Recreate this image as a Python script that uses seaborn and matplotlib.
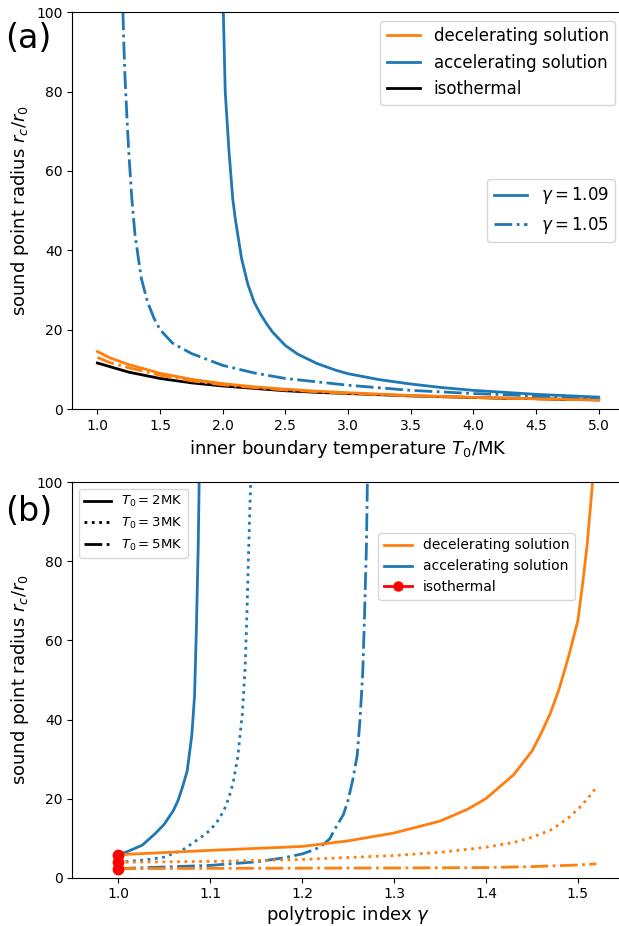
import numpy as np
import pandas as pd
import matplotlib
matplotlib.use("Agg")
import matplotlib.pyplot as plt
from matplotlib.lines import Line2D
import seaborn as sns

ORANGE = "#ff7f0e"
BLUE = "#1f77b4"

# ---- panel (a): sound point radius vs inner boundary temperature ----
T_iso = [1.0, 1.25, 1.5, 1.75, 2.0, 2.25, 2.5, 2.75, 3.0, 3.25, 3.5, 3.75, 4.0, 4.25, 4.5, 4.75, 5.0]
r_iso = [11.6, 9.3, 7.7, 6.6, 5.8, 5.2, 4.6, 4.2, 3.9, 3.6, 3.3, 3.1, 2.9, 2.7, 2.6, 2.4, 2.3]

T_dec = [1.0, 1.1, 1.25, 1.4, 1.5, 1.75, 2.0, 2.25, 2.5, 2.75, 3.0, 3.5, 4.0, 4.5, 5.0]
r_dec_109 = [14.5, 12.9, 11.2, 9.9, 9.0, 7.5, 6.4, 5.6, 5.0, 4.5, 4.1, 3.4, 2.95, 2.6, 2.3]
r_dec_105 = [13.0, 11.7, 10.4, 9.3, 8.5, 7.1, 6.1, 5.4, 4.8, 4.35, 3.95, 3.35, 2.9, 2.55, 2.3]

T_acc_109 = [2.005, 2.02, 2.05, 2.08, 2.1, 2.15, 2.2, 2.25, 2.3, 2.35, 2.4, 2.5, 2.6,
             2.75, 2.9, 3.0, 3.25, 3.5, 3.75, 4.0, 4.5, 5.0]
r_acc_109 = [100, 80, 65, 53, 48, 38, 31.5, 27, 24, 21.5, 19.3, 16.0, 13.8,
             11.5, 9.8, 8.9, 7.4, 6.3, 5.4, 4.7, 3.7, 3.0]

T_acc_105 = [1.204, 1.21, 1.22, 1.235, 1.25, 1.275, 1.3, 1.35, 1.4, 1.45, 1.5, 1.6,
             1.75, 2.0, 2.25, 2.5, 3.0, 3.5, 4.0, 4.5, 5.0]
r_acc_105 = [100, 93, 84, 74, 65, 53, 44, 33, 27, 23, 20, 16.6,
             14, 11, 9.1, 7.7, 6.0, 4.7, 3.9, 3.3, 2.9]

# ---- panel (b): sound point radius vs polytropic index ----
g_acc_2 = [1.0, 1.01, 1.026, 1.04, 1.05, 1.06, 1.065, 1.07, 1.075, 1.08, 1.083, 1.085, 1.087, 1.088]
r_acc_2 = [5.8, 6.6, 8.2, 11.1, 13.5, 17, 19.5, 23, 27, 36, 46, 63, 84, 100]

g_acc_3 = [1.0, 1.03, 1.05, 1.07, 1.08, 1.09, 1.1, 1.108, 1.115, 1.12, 1.125, 1.13,
           1.135, 1.138, 1.14, 1.142, 1.144]
r_acc_3 = [3.9, 4.5, 5.2, 7.0, 8.6, 10.2, 12, 14.3, 17, 20, 24, 30.5,
           41.5, 53, 67, 84, 100]

g_acc_5 = [1.0, 1.05, 1.1, 1.15, 1.18, 1.2, 1.21, 1.22, 1.23, 1.235, 1.24, 1.245, 1.25,
           1.255, 1.26, 1.263, 1.266, 1.268, 1.27, 1.271]
r_acc_5 = [2.3, 2.7, 3.1, 4.0, 5.0, 6.0, 6.8, 7.8, 9.8, 12, 14, 16, 19.6,
           24.6, 31, 40, 52, 67, 84, 100]

g_dec_2 = [1.0, 1.1, 1.2, 1.25, 1.3, 1.35, 1.38, 1.4, 1.43, 1.45, 1.46, 1.47, 1.48,
           1.49, 1.5, 1.505, 1.51, 1.516]
r_dec_2 = [5.8, 6.9, 7.9, 9.3, 11.3, 14.3, 17.3, 20, 26, 32, 36.5, 41.5, 48,
           56, 65, 74, 84, 100]

g_dec_3 = [1.0, 1.1, 1.2, 1.3, 1.35, 1.4, 1.43, 1.45, 1.47, 1.48, 1.49, 1.5, 1.51, 1.52]
r_dec_3 = [3.9, 4.1, 4.6, 5.6, 6.4, 7.7, 8.9, 10.2, 12.0, 13.5, 15.2, 17.3, 19.8, 22.8]

g_dec_5 = [1.0, 1.2, 1.3, 1.4, 1.45, 1.5, 1.52]
r_dec_5 = [2.3, 2.4, 2.45, 2.55, 2.8, 3.2, 3.5]

g_iso = [1.0, 1.0, 1.0]
r_iso_b = [5.8, 3.9, 2.3]


def line(ax, x, y, color, ls="-"):
    df = pd.DataFrame({"x": x, "y": y})
    sns.lineplot(data=df, x="x", y="y", ax=ax, color=color, linestyle=ls,
                 sort=False, estimator=None, linewidth=2)


fig = plt.figure(figsize=(6.19, 9.26), dpi=100)
ax1 = fig.add_axes([0.1168, 0.5583, 0.891, 0.4284])
ax2 = fig.add_axes([0.1168, 0.0522, 0.891, 0.4270])

# panel (a)
line(ax1, T_iso, r_iso, "black")
line(ax1, T_dec, r_dec_109, ORANGE)
line(ax1, T_dec, r_dec_105, ORANGE, "-.")
line(ax1, T_acc_109, r_acc_109, BLUE)
line(ax1, T_acc_105, r_acc_105, BLUE, "-.")

ax1.set_xlim(0.8, 5.2)
ax1.set_ylim(0, 100)
ax1.set_xticks(np.arange(1.0, 5.01, 0.5))
ax1.set_xlabel("inner boundary temperature $T_0$/MK", fontsize=13)
ax1.set_ylabel("sound point radius $r_c/r_0$", fontsize=13)
ax1.tick_params(labelsize=10)

h1 = [Line2D([], [], color=ORANGE, lw=2), Line2D([], [], color=BLUE, lw=2),
      Line2D([], [], color="black", lw=2)]
leg1 = ax1.legend(h1, ["decelerating solution", "accelerating solution", "isothermal"],
                  loc="upper right", fontsize=12)
ax1.add_artist(leg1)
h2 = [Line2D([], [], color=BLUE, lw=2), Line2D([], [], color=BLUE, lw=2, ls="-.")]
ax1.legend(h2, [r"$\gamma=1.09$", r"$\gamma=1.05$"], loc="center right", fontsize=12)

# panel (b)
line(ax2, g_acc_2, r_acc_2, BLUE)
line(ax2, g_acc_3, r_acc_3, BLUE, ":")
line(ax2, g_acc_5, r_acc_5, BLUE, "-.")
line(ax2, g_dec_2, r_dec_2, ORANGE)
line(ax2, g_dec_3, r_dec_3, ORANGE, ":")
line(ax2, g_dec_5, r_dec_5, ORANGE, "-.")
ax2.plot(g_iso, r_iso_b, "-o", color="red", markersize=7.5, zorder=5)

ax2.set_xlim(0.95, 1.55)
ax2.set_ylim(0, 100)
ax2.set_xticks(np.arange(1.0, 1.51, 0.1))
ax2.set_xlabel(r"polytropic index $\gamma$", fontsize=13, labelpad=2)
ax2.set_ylabel("sound point radius $r_c/r_0$", fontsize=13)
ax2.tick_params(labelsize=10)

h3 = [Line2D([], [], color="black", lw=2), Line2D([], [], color="black", lw=2, ls=":"),
      Line2D([], [], color="black", lw=2, ls="-.")]
leg3 = ax2.legend(h3, ["$T_0=2$MK", "$T_0=3$MK", "$T_0=5$MK"], loc="upper left", fontsize=9.5)
ax2.add_artist(leg3)
h4 = [Line2D([], [], color=ORANGE, lw=2), Line2D([], [], color=BLUE, lw=2),
      Line2D([], [], color="red", lw=2, marker="o", markersize=6.5)]
ax2.legend(h4, ["decelerating solution", "accelerating solution", "isothermal"],
           loc="upper right", bbox_to_anchor=(0.911, 0.872), borderaxespad=0, fontsize=10)

fig.text(0.008, 0.958, "(a)", fontsize=24, va="center")
fig.text(0.008, 0.448, "(b)", fontsize=24, va="center")

fig.savefig("out.png", dpi=100)
